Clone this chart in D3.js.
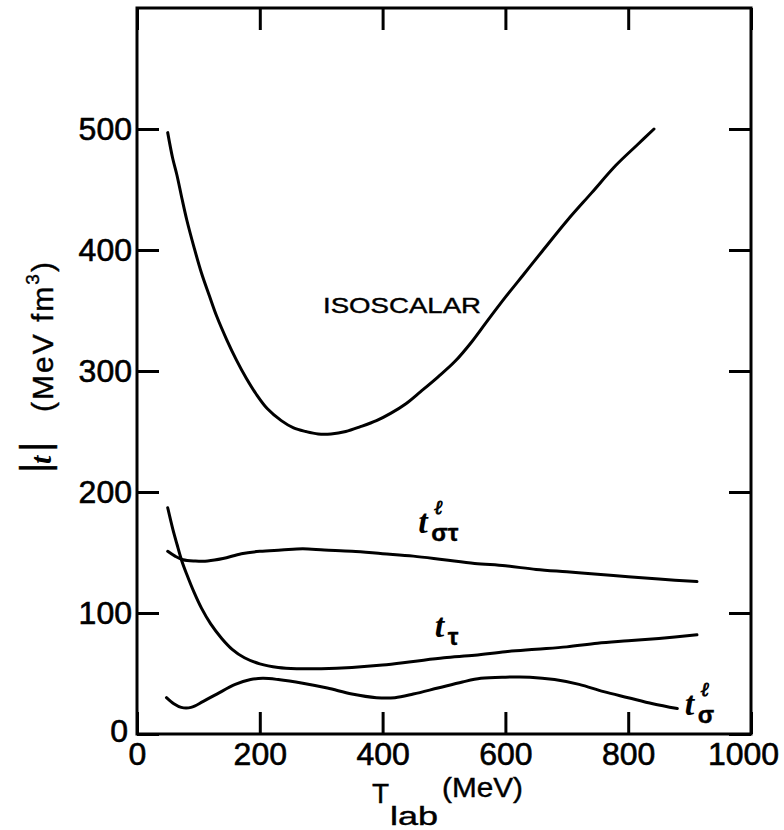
<!DOCTYPE html>
<html>
<meta charset="utf-8">
<head>
<script src="https://cdnjs.cloudflare.com/ajax/libs/d3/7.8.5/d3.min.js"></script>
</head>
<style>
body { margin: 0; background: #fff; }
.axis text { font-family: "Liberation Sans", sans-serif; font-size: 32px; fill: #000; stroke: #000; stroke-width: 0.6px; }
.axis .tick line { stroke: #000; stroke-width: 3px; }
.axis .domain { display: none; }
.curve { fill: none; stroke: #000; stroke-width: 3px; stroke-linecap: round; }
.lbl { font-family: "Liberation Sans", sans-serif; fill: #000; stroke: #000; stroke-width: 0.4px; }
.tsym { font-family: "Liberation Serif", serif; font-style: italic; font-weight: bold; fill: #000; }
.ell { font-family: "DejaVu Serif", serif; font-style: italic; font-weight: bold; fill: #000; stroke: #000; stroke-width: 0.8px; }
</style>
<body>
<svg id="canvas" width="784" height="830"></svg>
<script>
// curves: [T_lab (MeV), |t| (MeV fm^3)]
var isoscalar = [[50,497],[58,476],[65,462],[73,443],[81,425],[93,402],[105,381],[118,362],[130,345],[146,326],[162,309],[178,294],[194,281],[212,269],[235,259],[255,253],[275,250],[295,248],[316,248],[340,250],[364,254],[390,259],[413,265],[438,273],[462,283],[490,295],[518,308],[545,324],[570,341],[600,361],[630,380],[660,399],[700,424],[740,447],[780,470],[815,487],[842,500]];
var tSigmaTau = [[50,151],[62,147],[75,144],[95,143],[115,143],[140,145],[170,149],[200,151],[235,152],[270,153],[305,152],[350,151],[400,149],[450,147],[500,144],[550,141],[600,139],[650,136],[700,134],[750,132],[800,130],[850,128],[912,126]];
var tTau = [[50,187],[58,170],[65,157],[73,143],[81,132],[93,117],[105,104],[120,91],[138,79],[155,70],[175,63],[200,58],[230,55],[260,54],[300,54],[350,55],[400,57],[450,60],[500,63],[550,65],[600,68],[650,70],[700,72],[750,75],[800,77],[850,79],[912,82]];
var tSigma = [[48,30],[60,25],[72,22],[88,22],[108,27],[130,33],[160,41],[185,45],[205,46],[230,45],[270,42],[310,38],[350,33],[390,30],[420,30],[450,33],[490,38],[530,43],[560,46],[600,47],[640,47],[680,45],[720,41],[760,35],[800,30],[840,25],[880,21]];

var xTicks = [0, 200, 400, 600, 800, 1000];
var yTicks = [0, 100, 200, 300, 400, 500];

// label anchors in data units
var isoLabel = [303, 348];
var sigmaTauLabel = [458, 166];
var tauLabel = [485, 80];
var sigmaLabel = [892, 16];

const plotL = 137, plotR = 751, plotT = 8, plotB = 734;

const x = d3.scaleLinear().domain([0, 1000]).range([plotL, plotR]);
const y = d3.scaleLinear().domain([0, 600]).range([plotB, plotT]);

const svg = d3.select('#canvas');

// tick marks all point inward
var xAxisG = svg.append('g').classed('axis', true)
   .attr('transform', `translate(0,${plotB})`)
   .call(d3.axisBottom(x).tickValues(xTicks).tickSizeInner(-22).tickSizeOuter(0).tickPadding(8).tickFormat(d3.format('d')));
var yAxisG = svg.append('g').classed('axis', true)
   .attr('transform', `translate(${plotL},0)`)
   .call(d3.axisLeft(y).tickValues(yTicks).tickSizeInner(-22).tickSizeOuter(0).tickPadding(5).tickFormat(d3.format('d')));
svg.append('g').classed('axis', true)
   .attr('transform', `translate(0,${plotT})`)
   .call(d3.axisTop(x).tickValues(xTicks).tickSizeInner(-22).tickSizeOuter(0).tickFormat(''));
svg.append('g').classed('axis', true)
   .attr('transform', `translate(${plotR},0)`)
   .call(d3.axisRight(y).tickValues(yTicks).tickSizeInner(-22).tickSizeOuter(0).tickFormat(''));

// y "0" sits a bit left of the corner, "1000" pulled in from the edge
yAxisG.selectAll('.tick text').filter(d => d === 0).attr('x', -9).attr('y', -3);
xAxisG.selectAll('.tick text').filter(d => d === 1000).attr('x', -8);

// frame
svg.append('rect')
   .attr('x', plotL).attr('y', plotT)
   .attr('width', plotR - plotL).attr('height', plotB - plotT)
   .attr('fill', 'none').attr('stroke', '#000').attr('stroke-width', 3);

const line = d3.line()
    .x(d => x(d[0]))
    .y(d => y(d[1]))
    .curve(d3.curveCatmullRom.alpha(0.5));

[isoscalar, tSigmaTau, tTau, tSigma].forEach(s => {
    svg.append('path').classed('curve', true).attr('d', line(s));
});

// curve labels
svg.append('text').classed('lbl', true)
   .attr('x', x(isoLabel[0])).attr('y', y(isoLabel[1]))
   .attr('textLength', 158).attr('lengthAdjust', 'spacingAndGlyphs')
   .style('font-size', '22px')
   .text('ISOSCALAR');

function tLabel(pos, sub, sup) {
    const g = svg.append('g').attr('transform', `translate(${x(pos[0])},${y(pos[1])})`);
    g.append('text').classed('tsym', true).style('font-size', '34px').text('t');
    g.append('text').classed('lbl', true)
     .attr('x', 13).attr('y', 8)
     .style('font-size', '24px').style('font-weight', 'bold')
     .text(sub);
    if (sup) {
        g.append('text').classed('ell', true)
         .attr('x', 16).attr('y', -19)
         .style('font-size', '20px')
         .text(sup);
    }
}
tLabel(sigmaTauLabel, 'στ', 'ℓ');
tLabel(tauLabel, 'τ', null);
tLabel(sigmaLabel, 'σ', 'ℓ');

// x axis title
svg.append('text').classed('lbl', true).attr('x', 372).attr('y', 803).style('font-size', '28px').text('T');
svg.append('text').classed('lbl', true).attr('x', 390).attr('y', 825)
   .attr('textLength', 48).attr('lengthAdjust', 'spacingAndGlyphs')
   .style('font-size', '25px').text('lab');
svg.append('text').classed('lbl', true).attr('x', 442).attr('y', 797)
   .attr('textLength', 81).attr('lengthAdjust', 'spacingAndGlyphs')
   .style('font-size', '27px').text('(MeV)');

// y axis title
const yt = svg.append('g').attr('transform', 'translate(53,473) rotate(-90)');
yt.append('text').classed('lbl', true).attr('x', 0).attr('y', -4)
  .style('font-size', '40px').text('|');
yt.append('text').classed('tsym', true).attr('x', 9).attr('y', -2)
  .style('font-size', '30px').text('t');
yt.append('text').classed('lbl', true).attr('x', 21).attr('y', -4)
  .style('font-size', '40px').text('|');
const unit = yt.append('text').classed('lbl', true)
  .attr('x', 61).attr('y', 0)
  .style('font-size', '30px').style('letter-spacing', '2px');
unit.append('tspan').text('(MeV fm');
unit.append('tspan').attr('dy', -14).style('font-size', '19px').text('3');
unit.append('tspan').attr('dy', 14).text(')');
</script>
</body>
</html>
